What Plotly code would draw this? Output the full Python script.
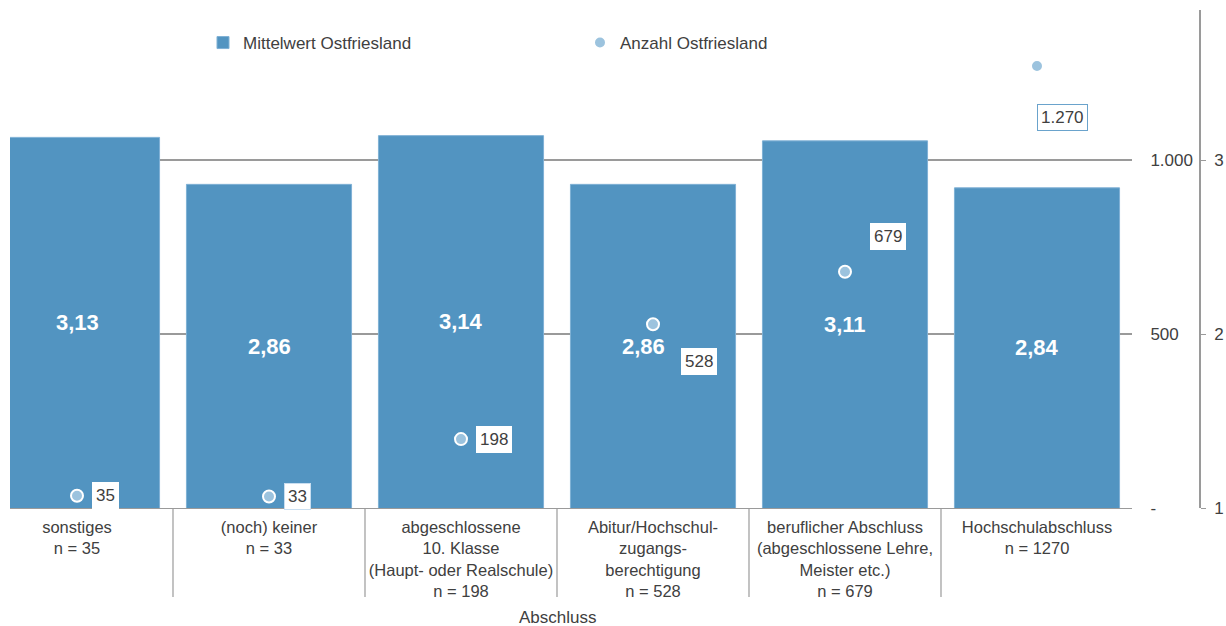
import plotly.graph_objects as go

# Categories (school-leaving qualification) and values
categories = [
    "sonstiges<br>n = 35",
    "(noch) keiner<br>n = 33",
    "abgeschlossene<br>10. Klasse<br>(Haupt- oder Realschule)<br>n = 198",
    "Abitur/Hochschul-<br>zugangs-<br>berechtigung<br>n = 528",
    "beruflicher Abschluss<br>(abgeschlossene Lehre,<br>Meister etc.)<br>n = 679",
    "Hochschulabschluss<br>n = 1270",
]
mittelwert = [3.13, 2.86, 3.14, 2.86, 3.11, 2.84]
anzahl = [35, 33, 198, 528, 679, 1270]
anzahl_labels = ["35", "33", "198", "528", "679", "1.270"]

count_ticks = [0, 500, 1000]
count_tick_text = ["-", "500", "1.000"]
mean_ticks = [1, 2, 3]

BAR = "#5294c1"
DOT = "#9cc3de"
TXT = "#404040"
GRID = "#9a9a9a"
FONT = "Liberation Sans, Arial, sans-serif"

x = list(range(len(categories)))

fig = go.Figure()

fig.add_trace(go.Bar(
    x=x, y=mittelwert, name="Mittelwert Ostfriesland",
    marker=dict(color=BAR, line=dict(color="#7fb1d5", width=1)),
    width=0.86, yaxis="y", legend="legend", hoverinfo="skip",
))

fig.add_trace(go.Scatter(
    x=x, y=anzahl, name="Anzahl Ostfriesland", mode="markers",
    marker=dict(color=DOT, size=12, line=dict(color="white", width=2)),
    yaxis="y2", legend="legend2", hoverinfo="skip",
))

# mean value labels centred in the bars
bar_label_shift = [0, 0, 0, -10, 0, 0]
for i, v in enumerate(mittelwert):
    fig.add_annotation(
        x=i, y=(1 + v) / 2, xref="x", yref="y",
        text=f"<b>{v:.2f}</b>".replace(".", ","), showarrow=False,
        xshift=bar_label_shift[i],
        font=dict(family=FONT, size=22, color="white"),
    )

# count labels next to the points
label_dx = [28, 28, 33, 46, 43, 25]
label_dy = [0, 0, 0, -37, 35, -51]
label_border = ["white", "#c9def0", "white", "white", "white", "#6aa3cc"]
for i, n in enumerate(anzahl):
    fig.add_annotation(
        x=i, y=n, xref="x", yref="y2", text=anzahl_labels[i],
        showarrow=False, xshift=label_dx[i], yshift=label_dy[i],
        bgcolor="white", bordercolor=label_border[i], borderwidth=1,
        borderpad=3, font=dict(family=FONT, size=17, color=TXT),
    )

# axis title under the category labels
fig.add_annotation(
    x=2.5, y=0, xref="x", yref="paper", yanchor="top", yshift=-98,
    text="Abschluss", showarrow=False,
    font=dict(family=FONT, size=17, color=TXT),
)

# separators between category labels
PLOT_H = 498
for b in [0.5, 1.5, 2.5, 3.5, 4.5, 5.5]:
    y_end = -118 / PLOT_H if b == 5.5 else -89 / PLOT_H
    fig.add_shape(type="line", xref="x", yref="paper",
                  x0=b, x1=b, y0=0, y1=y_end,
                  line=dict(color=GRID, width=1.2), layer="below")

X_END = (1132 - 10) / 1190

fig.update_layout(
    width=1226, height=626,
    margin=dict(l=10, r=26, t=10, b=118, autoexpand=False),
    paper_bgcolor="white", plot_bgcolor="white",
    font=dict(family=FONT, size=17, color=TXT),
    bargap=0.14,
    xaxis=dict(
        domain=[0, X_END], range=[-0.5 + 29 / 192, 5.5 - 1 / 192],
        tickmode="array", tickvals=x, ticktext=categories,
        showline=True, linecolor=GRID, linewidth=1.2,
        showgrid=False, zeroline=False, ticks="", ticklabelstandoff=4,
        tickfont=dict(family=FONT, size=16.5, color=TXT),
        automargin=False,
    ),
    yaxis=dict(
        anchor="free", position=1.0, side="right",
        range=[1, 1 + 498 / 174],
        tickmode="array", tickvals=mean_ticks,
        showline=True, linecolor=GRID, linewidth=1.5,
        ticks="outside", ticklen=5, tickcolor=GRID, ticklabelstandoff=5,
        showgrid=False, zeroline=False, automargin=False,
        tickfont=dict(family=FONT, size=17, color=TXT),
    ),
    yaxis2=dict(
        overlaying="y", anchor="free", position=X_END, side="right",
        range=[0, 498 / 0.348],
        tickmode="array", tickvals=count_ticks, ticktext=count_tick_text,
        showline=False, ticks="outside", ticklen=14,
        tickcolor="rgba(0,0,0,0)",
        showgrid=True, gridcolor=GRID, gridwidth=1.5, zeroline=False,
        automargin=False,
        tickfont=dict(family=FONT, size=17, color=TXT),
    ),
    legend=dict(
        x=(203 - 10) / 1190, y=1 - 33 / PLOT_H, xanchor="left", yanchor="middle",
        orientation="h", bgcolor="rgba(0,0,0,0)",
        font=dict(family=FONT, size=17, color=TXT),
    ),
    legend2=dict(
        x=(580 - 10) / 1190, y=1 - 33 / PLOT_H, xanchor="left", yanchor="middle",
        orientation="h", bgcolor="rgba(0,0,0,0)",
        font=dict(family=FONT, size=17, color=TXT),
    ),
    showlegend=True,
)

fig.write_html("out.html")
